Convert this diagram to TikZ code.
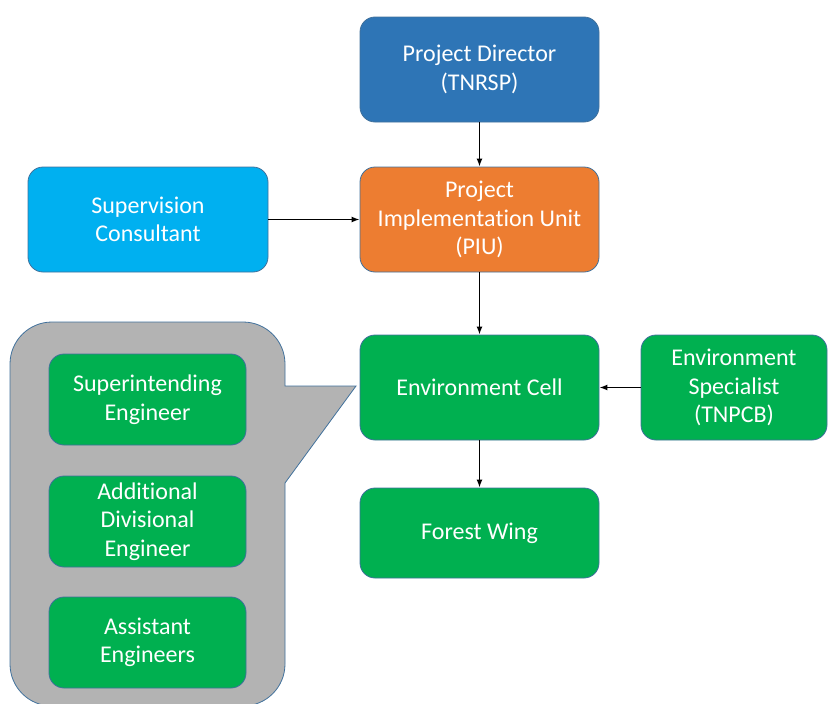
\documentclass[tikz,border=0pt]{standalone}
\usepackage{fontspec}
\setmainfont{Carlito}[Ligatures=NoCommon]
\usetikzlibrary{arrows.meta}
\definecolor{cblue}{HTML}{2E75B6}
\definecolor{corange}{HTML}{ED7D31}
\definecolor{ccyan}{HTML}{00B0F0}
\definecolor{cgreen}{HTML}{00B050}
\definecolor{cborder}{HTML}{41719C}
\definecolor{cgray}{HTML}{B3B3B3}
\tikzset{
  box/.style={draw=cborder, line width=0.8pt, rounded corners=15pt, text=white,
    font=\fontsize{24}{28.5}\selectfont, align=center, inner sep=0pt},
  conn/.style={-{Latex[length=8pt,width=6pt]}, line width=1.5pt, black}
}
\begin{document}
\begin{tikzpicture}[x=1pt,y=-1pt]
\useasboundingbox (0,0) rectangle (828,704);
% callout
\draw[fill=cgray, draw=cborder, line width=0.8pt]
  (150,322) [rounded corners=42pt] -- (10,322) -- (10,706) -- (285,706)
  [sharp corners] -- (285,483) -- (356,386) -- (285,386) [rounded corners=42pt] -- (285,322) -- cycle;
\node[box, fill=cblue, minimum width=239pt, minimum height=105pt] (pd) at (479.5,69.5) {Project Director\\(TNRSP)};
\node[box, fill=corange, minimum width=239pt, minimum height=105pt] (piu) at (479.5,219.5) {Project\\Implementation Unit\\(PIU)};
\node[box, fill=ccyan, minimum width=240pt, minimum height=105pt] (sc) at (148,219.5) {Supervision\\Consultant};
\node[box, fill=cgreen, minimum width=239pt, minimum height=105pt] (ec) at (479.5,387.5) {Environment Cell};
\node[box, fill=cgreen, minimum width=186pt, minimum height=105pt] (es) at (734,387.5) {Environment\\Specialist\\(TNPCB)};
\node[box, fill=cgreen, minimum width=239pt, minimum height=90pt] (fw) at (479.5,533) {Forest Wing};
\node[box, fill=cgreen, minimum width=197pt, minimum height=91pt] (se) at (147.5,399.5) {Superintending\\Engineer};
\node[box, fill=cgreen, minimum width=197pt, minimum height=91pt] (ade) at (147.5,521.5) {Additional\\Divisional\\Engineer};
\node[box, fill=cgreen, minimum width=197pt, minimum height=91pt] (ae) at (147.5,642.5) {Assistant\\Engineers};
\draw[conn] (pd) -- (piu);
\draw[conn] (piu) -- (ec);
\draw[conn] (ec) -- (fw);
\draw[conn] (sc) -- (piu);
\draw[conn] (es) -- (ec);
\end{tikzpicture}
\end{document}
